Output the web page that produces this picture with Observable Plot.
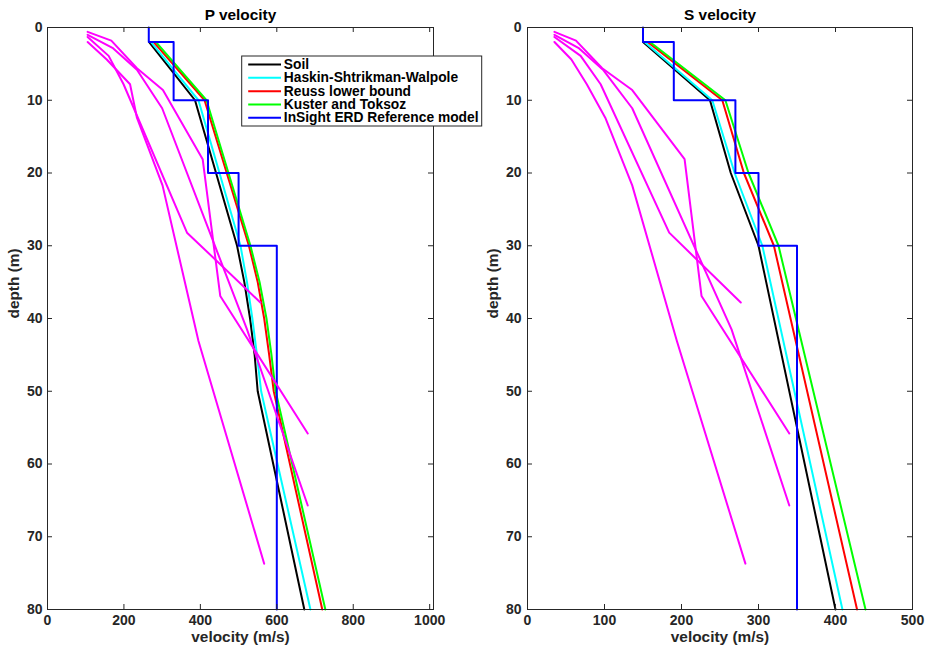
<!DOCTYPE html>
<html>
<head>
<meta charset="utf-8">
<script src="https://cdn.jsdelivr.net/npm/d3@7"></script>
<script src="https://cdn.jsdelivr.net/npm/@observablehq/plot@0.6"></script>
<style>
  body { margin: 0; background: #fff; }
  #wrap { position: relative; width: 930px; height: 646px; overflow: hidden; background: #fff; }
  #left, #right { position: absolute; top: 0; width: 465px; height: 646px; }
  #left { left: 0; z-index: 2; }
  #right { left: 465px; z-index: 1; }
</style>
</head>
<body>
<div id="wrap"><div id="left"></div><div id="right"></div></div>
<script>
// ---------- data ----------
const depthTicks = [0, 10, 20, 30, 40, 50, 60, 70, 80];
const pTicks = [0, 200, 400, 600, 800, 1000];
const sTicks = [0, 100, 200, 300, 400, 500];
const legendLabels = ["Soil", "Haskin-Shtrikman-Walpole", "Reuss lower bound", "Kuster and Toksoz", "InSight ERD Reference model"];

// P velocity, rock-physics models
const pModelDepths = [2, 10, 30, 35, 40, 45, 50, 80];
const pSoil   = [266, 386, 496, 515, 530, 542, 550, 672];
const pHSW    = [271, 395, 505, 522, 536, 548, 559, 688];
const pReuss  = [278, 411, 527, 550, 567, 580, 592, 719];
const pKuster = [284, 416, 531, 555, 573, 586, 597, 727];

// S velocity, rock-physics models
const sModelDepths = [2, 10, 20, 30, 80];
const sSoil   = [150, 237, 264, 300, 400];
const sHSW    = [152, 240, 269, 305, 409];
const sReuss  = [156, 253, 281, 320, 428];
const sKuster = [159, 257, 287, 326, 439];

// InSight ERD reference model (step profile)
const erdDepths = [0, 2, 2, 10, 10, 20, 20, 30, 30, 80];
const pERD = [265, 265, 330, 330, 420, 420, 500, 500, 600, 600];
const sERD = [150, 150, 190, 190, 270, 270, 300, 300, 350, 350];

// Magenta profiles
const prof1Depths = [0.6, 1.8, 5.6, 8.6, 18.1, 36.9, 55.8];
const pProf1 = [105, 167, 234, 302, 406, 452, 681];
const sProf1 = [35, 63, 97, 136, 204, 226, 340];

const prof2Depths = [1.0, 2.8, 5.8, 11.1, 41.5, 65.7];
const pProf2 = [105, 170, 234, 300, 522, 681];
const sProf2 = [35, 66, 98, 136, 265, 340];

const prof3Depths = [1.3, 3.9, 7.8, 28.2, 37.8];
const pProf3 = [105, 160, 199, 365, 557];
const sProf3 = [35, 69, 95, 184, 277];

const prof4Depths = [2.0, 4.4, 7.8, 12.4, 21.7, 43.1, 73.7];
const pProf4 = [105, 155, 216, 234, 301, 395, 567];
const sProf4 = [35, 57, 77, 101, 136, 194, 283];

// ---------- styling ----------
const FONT = "'Liberation Sans', Arial, Helvetica, sans-serif";
const AX = "#262626";
const modelColors = ["#000000", "#00ffff", "#ff0000", "#00ff00", "#0000ff"];
const W = 465, H = 646, mT = 27, mB = 37;

const rows = (depths, values) => depths.map((d, i) => ({d, v: values[i]}));

function panel({title, xDomain, xTicks, mL, mR, models, erd, profiles, yPad, yLabelDx, legend}) {
  const fw = W - mL - mR, fh = H - mT - mB, tk = 5;
  const px2v = p => xDomain[0] + (p - mL) / fw * (xDomain[1] - xDomain[0]);
  const py2d = p => (p - mT) / fh * 80;
  const marks = [
    ...models.map((m, i) => Plot.line(rows(m.depths, m.values), {x: "v", y: "d", stroke: modelColors[i], strokeWidth: 2})),
    Plot.line(rows(erdDepths, erd), {x: "v", y: "d", stroke: modelColors[4], strokeWidth: 2}),
    ...profiles.map(p => Plot.line(rows(p.depths, p.values), {x: "v", y: "d", stroke: "#ff00ff", strokeWidth: 2})),
    Plot.frame({stroke: AX, strokeWidth: 1}),
    Plot.tickX(xTicks, {x: d => d, stroke: AX, insetTop: fh - tk}),
    Plot.tickX(xTicks, {x: d => d, stroke: AX, insetBottom: fh - tk}),
    Plot.tickY(depthTicks, {y: d => d, stroke: AX, insetRight: fw - tk}),
    Plot.tickY(depthTicks, {y: d => d, stroke: AX, insetLeft: fw - tk}),
    Plot.axisX(xTicks, {anchor: "bottom", tickSize: 0, tickPadding: 6, label: null, fontSize: 14, tickFormat: d => String(d)}),
    Plot.axisY(depthTicks, {anchor: "left", tickSize: 0, tickPadding: yPad, label: null, fontSize: 14, tickFormat: d => String(d)}),
    Plot.text([title], {text: d => d, frameAnchor: "top", dy: -12, lineAnchor: "middle", fontSize: 15.4, fill: "#000"}),
    Plot.text(["velocity (m/s)"], {text: d => d, frameAnchor: "bottom", dy: 28, lineAnchor: "middle", fontSize: 15.4}),
    Plot.text(["depth (m)"], {text: d => d, frameAnchor: "left", dx: yLabelDx, rotate: -90, fontSize: 15.4})
  ];
  if (legend) {
    const rowY = i => 64 + 13.33 * i;
    const items = legendLabels.map((t, i) => ({t, i}));
    marks.push(
      Plot.rect([0], {x1: () => px2v(241.7), x2: () => px2v(481.7), y1: () => py2d(56), y2: () => py2d(126), fill: "white", stroke: AX, strokeWidth: 1}),
      Plot.link(items, {x1: () => px2v(247.7), x2: () => px2v(280.5), y1: r => py2d(rowY(r.i)), y2: r => py2d(rowY(r.i)), stroke: r => modelColors[r.i], strokeWidth: 2}),
      Plot.text(items, {x: () => px2v(283.3), y: r => py2d(rowY(r.i)), text: r => r.t, textAnchor: "start", lineAnchor: "middle", fontSize: 13.8, fill: "#000"})
    );
  }
  return Plot.plot({
    width: W, height: H,
    marginLeft: mL, marginRight: mR, marginTop: mT, marginBottom: mB,
    x: {domain: xDomain},
    y: {domain: [0, 80], reverse: true},
    style: {fontFamily: FONT, fontSize: "14px", fontWeight: "bold", color: AX, background: "transparent", overflow: "visible"},
    marks
  });
}

const left = panel({
  title: "P velocity", xDomain: [0, 1010], xTicks: pTicks, mL: 47, mR: 32, yPad: 5, yLabelDx: -33,
  models: [
    {depths: pModelDepths, values: pSoil},
    {depths: pModelDepths, values: pHSW},
    {depths: pModelDepths, values: pReuss},
    {depths: pModelDepths, values: pKuster}
  ],
  erd: pERD,
  profiles: [
    {depths: prof1Depths, values: pProf1},
    {depths: prof2Depths, values: pProf2},
    {depths: prof3Depths, values: pProf3},
    {depths: prof4Depths, values: pProf4}
  ],
  legend: true
});

const right = panel({
  title: "S velocity", xDomain: [0, 500], xTicks: sTicks, mL: 62, mR: 18, yPad: 6, yLabelDx: -34,
  models: [
    {depths: sModelDepths, values: sSoil},
    {depths: sModelDepths, values: sHSW},
    {depths: sModelDepths, values: sReuss},
    {depths: sModelDepths, values: sKuster}
  ],
  erd: sERD,
  profiles: [
    {depths: prof1Depths, values: sProf1},
    {depths: prof2Depths, values: sProf2},
    {depths: prof3Depths, values: sProf3},
    {depths: prof4Depths, values: sProf4}
  ],
  legend: false
});

document.getElementById("left").appendChild(left);
document.getElementById("right").appendChild(right);
</script>
</body>
</html>
